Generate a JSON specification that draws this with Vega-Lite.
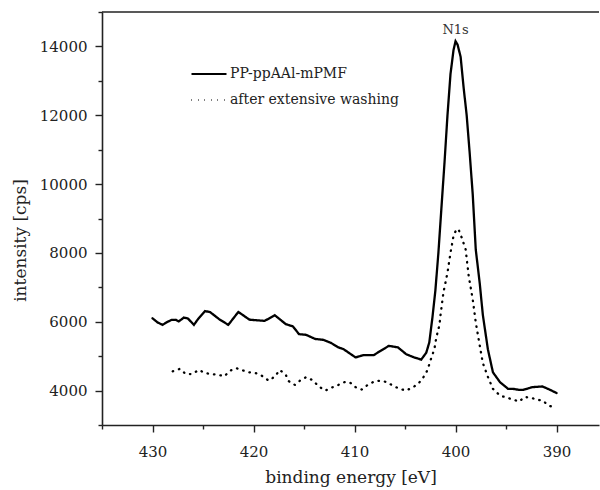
{
  "$schema": "https://vega.github.io/schema/vega-lite/v6.json",
  "width": 497,
  "height": 413,
  "autosize": "none",
  "padding": {"left": 102, "top": 12, "right": 1, "bottom": 65},
  "background": "white",
  "config": {
    "view": {"stroke": null},
    "font": "DejaVu Serif",
    "axis": {
      "domainColor": "#222",
      "domainWidth": 1.6,
      "tickColor": "#222",
      "tickWidth": 1.4,
      "grid": false,
      "labelFont": "DejaVu Serif",
      "labelFontSize": 15,
      "labelColor": "#222",
      "titleFont": "DejaVu Serif",
      "titleFontSize": 17,
      "titleFontWeight": "normal",
      "titleColor": "#222"
    }
  },
  "resolve": {"axis": {"y": "independent"}},
  "datasets": {
    "spectra": [
      {"series": "PP-ppAAl-mPMF", "energy": 430.0, "intensity": 6100},
      {"series": "PP-ppAAl-mPMF", "energy": 429.5, "intensity": 5980},
      {"series": "PP-ppAAl-mPMF", "energy": 429.0, "intensity": 5910},
      {"series": "PP-ppAAl-mPMF", "energy": 428.5, "intensity": 6000},
      {"series": "PP-ppAAl-mPMF", "energy": 428.1, "intensity": 6055},
      {"series": "PP-ppAAl-mPMF", "energy": 427.7, "intensity": 6055},
      {"series": "PP-ppAAl-mPMF", "energy": 427.4, "intensity": 6010},
      {"series": "PP-ppAAl-mPMF", "energy": 426.9, "intensity": 6120},
      {"series": "PP-ppAAl-mPMF", "energy": 426.5, "intensity": 6095},
      {"series": "PP-ppAAl-mPMF", "energy": 425.9, "intensity": 5910},
      {"series": "PP-ppAAl-mPMF", "energy": 425.5, "intensity": 6075},
      {"series": "PP-ppAAl-mPMF", "energy": 424.8, "intensity": 6310},
      {"series": "PP-ppAAl-mPMF", "energy": 424.3, "intensity": 6280},
      {"series": "PP-ppAAl-mPMF", "energy": 423.4, "intensity": 6075},
      {"series": "PP-ppAAl-mPMF", "energy": 422.5, "intensity": 5910},
      {"series": "PP-ppAAl-mPMF", "energy": 421.5, "intensity": 6285},
      {"series": "PP-ppAAl-mPMF", "energy": 420.4, "intensity": 6060},
      {"series": "PP-ppAAl-mPMF", "energy": 418.9, "intensity": 6025},
      {"series": "PP-ppAAl-mPMF", "energy": 417.9, "intensity": 6190},
      {"series": "PP-ppAAl-mPMF", "energy": 416.8, "intensity": 5930},
      {"series": "PP-ppAAl-mPMF", "energy": 416.1, "intensity": 5865},
      {"series": "PP-ppAAl-mPMF", "energy": 415.5, "intensity": 5640},
      {"series": "PP-ppAAl-mPMF", "energy": 414.8, "intensity": 5620},
      {"series": "PP-ppAAl-mPMF", "energy": 413.9, "intensity": 5500},
      {"series": "PP-ppAAl-mPMF", "energy": 413.1, "intensity": 5475},
      {"series": "PP-ppAAl-mPMF", "energy": 412.3, "intensity": 5380},
      {"series": "PP-ppAAl-mPMF", "energy": 411.6, "intensity": 5255},
      {"series": "PP-ppAAl-mPMF", "energy": 411.1, "intensity": 5205},
      {"series": "PP-ppAAl-mPMF", "energy": 409.9, "intensity": 4965},
      {"series": "PP-ppAAl-mPMF", "energy": 409.1, "intensity": 5030},
      {"series": "PP-ppAAl-mPMF", "energy": 408.1, "intensity": 5030},
      {"series": "PP-ppAAl-mPMF", "energy": 407.4, "intensity": 5160},
      {"series": "PP-ppAAl-mPMF", "energy": 406.6, "intensity": 5300},
      {"series": "PP-ppAAl-mPMF", "energy": 405.7, "intensity": 5255},
      {"series": "PP-ppAAl-mPMF", "energy": 404.9, "intensity": 5060},
      {"series": "PP-ppAAl-mPMF", "energy": 404.1, "intensity": 4965},
      {"series": "PP-ppAAl-mPMF", "energy": 403.4, "intensity": 4900},
      {"series": "PP-ppAAl-mPMF", "energy": 402.9, "intensity": 5100},
      {"series": "PP-ppAAl-mPMF", "energy": 402.6, "intensity": 5400},
      {"series": "PP-ppAAl-mPMF", "energy": 402.3, "intensity": 6100},
      {"series": "PP-ppAAl-mPMF", "energy": 402.0, "intensity": 6900},
      {"series": "PP-ppAAl-mPMF", "energy": 401.7, "intensity": 8000},
      {"series": "PP-ppAAl-mPMF", "energy": 401.4, "intensity": 9300},
      {"series": "PP-ppAAl-mPMF", "energy": 401.1, "intensity": 10600},
      {"series": "PP-ppAAl-mPMF", "energy": 400.8, "intensity": 12000},
      {"series": "PP-ppAAl-mPMF", "energy": 400.5, "intensity": 13200},
      {"series": "PP-ppAAl-mPMF", "energy": 400.2, "intensity": 13900},
      {"series": "PP-ppAAl-mPMF", "energy": 400.0, "intensity": 14150},
      {"series": "PP-ppAAl-mPMF", "energy": 399.8, "intensity": 14050},
      {"series": "PP-ppAAl-mPMF", "energy": 399.5, "intensity": 13700},
      {"series": "PP-ppAAl-mPMF", "energy": 399.2, "intensity": 12800},
      {"series": "PP-ppAAl-mPMF", "energy": 398.9, "intensity": 12000},
      {"series": "PP-ppAAl-mPMF", "energy": 398.6, "intensity": 10900},
      {"series": "PP-ppAAl-mPMF", "energy": 398.3, "intensity": 9700},
      {"series": "PP-ppAAl-mPMF", "energy": 398.0, "intensity": 8100},
      {"series": "PP-ppAAl-mPMF", "energy": 397.6, "intensity": 7100},
      {"series": "PP-ppAAl-mPMF", "energy": 397.3, "intensity": 6200},
      {"series": "PP-ppAAl-mPMF", "energy": 396.8, "intensity": 5200},
      {"series": "PP-ppAAl-mPMF", "energy": 396.3, "intensity": 4530},
      {"series": "PP-ppAAl-mPMF", "energy": 395.6, "intensity": 4245},
      {"series": "PP-ppAAl-mPMF", "energy": 394.8, "intensity": 4050},
      {"series": "PP-ppAAl-mPMF", "energy": 394.3, "intensity": 4050},
      {"series": "PP-ppAAl-mPMF", "energy": 393.7, "intensity": 4020},
      {"series": "PP-ppAAl-mPMF", "energy": 393.3, "intensity": 4020},
      {"series": "PP-ppAAl-mPMF", "energy": 392.4, "intensity": 4100},
      {"series": "PP-ppAAl-mPMF", "energy": 391.4, "intensity": 4120},
      {"series": "PP-ppAAl-mPMF", "energy": 390.7, "intensity": 4030},
      {"series": "PP-ppAAl-mPMF", "energy": 390.0, "intensity": 3930},
      {"series": "after extensive washing", "energy": 428.0, "intensity": 4560},
      {"series": "after extensive washing", "energy": 427.3, "intensity": 4630},
      {"series": "after extensive washing", "energy": 426.7, "intensity": 4480},
      {"series": "after extensive washing", "energy": 426.1, "intensity": 4480},
      {"series": "after extensive washing", "energy": 425.4, "intensity": 4600},
      {"series": "after extensive washing", "energy": 424.8, "intensity": 4510},
      {"series": "after extensive washing", "energy": 424.2, "intensity": 4480},
      {"series": "after extensive washing", "energy": 423.5, "intensity": 4460},
      {"series": "after extensive washing", "energy": 422.9, "intensity": 4415},
      {"series": "after extensive washing", "energy": 422.3, "intensity": 4580},
      {"series": "after extensive washing", "energy": 421.7, "intensity": 4650},
      {"series": "after extensive washing", "energy": 421.0, "intensity": 4580},
      {"series": "after extensive washing", "energy": 420.4, "intensity": 4530},
      {"series": "after extensive washing", "energy": 419.8, "intensity": 4510},
      {"series": "after extensive washing", "energy": 419.2, "intensity": 4435},
      {"series": "after extensive washing", "energy": 418.5, "intensity": 4290},
      {"series": "after extensive washing", "energy": 417.9, "intensity": 4405},
      {"series": "after extensive washing", "energy": 417.4, "intensity": 4600},
      {"series": "after extensive washing", "energy": 416.8, "intensity": 4455},
      {"series": "after extensive washing", "energy": 416.5, "intensity": 4270},
      {"series": "after extensive washing", "energy": 415.9, "intensity": 4165},
      {"series": "after extensive washing", "energy": 415.4, "intensity": 4290},
      {"series": "after extensive washing", "energy": 414.8, "intensity": 4390},
      {"series": "after extensive washing", "energy": 414.2, "intensity": 4310},
      {"series": "after extensive washing", "energy": 413.5, "intensity": 4115},
      {"series": "after extensive washing", "energy": 412.9, "intensity": 4000},
      {"series": "after extensive washing", "energy": 412.3, "intensity": 4080},
      {"series": "after extensive washing", "energy": 411.6, "intensity": 4165},
      {"series": "after extensive washing", "energy": 411.0, "intensity": 4245},
      {"series": "after extensive washing", "energy": 410.5, "intensity": 4245},
      {"series": "after extensive washing", "energy": 409.9, "intensity": 4100},
      {"series": "after extensive washing", "energy": 409.3, "intensity": 4030},
      {"series": "after extensive washing", "energy": 408.7, "intensity": 4165},
      {"series": "after extensive washing", "energy": 408.0, "intensity": 4270},
      {"series": "after extensive washing", "energy": 407.4, "intensity": 4290},
      {"series": "after extensive washing", "energy": 406.8, "intensity": 4245},
      {"series": "after extensive washing", "energy": 406.1, "intensity": 4125},
      {"series": "after extensive washing", "energy": 405.5, "intensity": 4050},
      {"series": "after extensive washing", "energy": 404.9, "intensity": 4000},
      {"series": "after extensive washing", "energy": 404.2, "intensity": 4100},
      {"series": "after extensive washing", "energy": 403.7, "intensity": 4195},
      {"series": "after extensive washing", "energy": 403.2, "intensity": 4380},
      {"series": "after extensive washing", "energy": 402.8, "intensity": 4580},
      {"series": "after extensive washing", "energy": 402.4, "intensity": 4950},
      {"series": "after extensive washing", "energy": 402.1, "intensity": 5200},
      {"series": "after extensive washing", "energy": 401.9, "intensity": 5550},
      {"series": "after extensive washing", "energy": 401.6, "intensity": 5900},
      {"series": "after extensive washing", "energy": 401.5, "intensity": 6170},
      {"series": "after extensive washing", "energy": 401.2, "intensity": 6850},
      {"series": "after extensive washing", "energy": 400.8, "intensity": 7425},
      {"series": "after extensive washing", "energy": 400.5, "intensity": 8005},
      {"series": "after extensive washing", "energy": 400.2, "intensity": 8500},
      {"series": "after extensive washing", "energy": 399.9, "intensity": 8690},
      {"series": "after extensive washing", "energy": 399.7, "intensity": 8680},
      {"series": "after extensive washing", "energy": 399.4, "intensity": 8450},
      {"series": "after extensive washing", "energy": 399.0, "intensity": 8100},
      {"series": "after extensive washing", "energy": 398.7, "intensity": 7330},
      {"series": "after extensive washing", "energy": 398.3, "intensity": 6650},
      {"series": "after extensive washing", "energy": 398.0, "intensity": 5980},
      {"series": "after extensive washing", "energy": 397.6, "intensity": 5300},
      {"series": "after extensive washing", "energy": 397.3, "intensity": 4800},
      {"series": "after extensive washing", "energy": 396.8, "intensity": 4400},
      {"series": "after extensive washing", "energy": 396.3, "intensity": 4050},
      {"series": "after extensive washing", "energy": 395.6, "intensity": 3855},
      {"series": "after extensive washing", "energy": 395.0, "intensity": 3800},
      {"series": "after extensive washing", "energy": 394.3, "intensity": 3740},
      {"series": "after extensive washing", "energy": 393.7, "intensity": 3680},
      {"series": "after extensive washing", "energy": 393.2, "intensity": 3810},
      {"series": "after extensive washing", "energy": 392.6, "intensity": 3800},
      {"series": "after extensive washing", "energy": 392.0, "intensity": 3740},
      {"series": "after extensive washing", "energy": 391.4, "intensity": 3710},
      {"series": "after extensive washing", "energy": 390.7, "intensity": 3550},
      {"series": "after extensive washing", "energy": 390.0, "intensity": 3520}
    ],
    "annot": [{"energy": 400, "intensity": 14470, "label": "N1s"}],
    "frame": [{"intensity": 15000}]
  },
  "layer": [
    {
      "data": {"name": "spectra"},
      "mark": {"type": "line", "color": "black", "strokeWidth": 2.3, "strokeCap": "round", "clip": true},
      "encoding": {
        "x": {
          "field": "energy", "type": "quantitative",
          "scale": {"domain": [435, 385.8], "nice": false, "zero": false},
          "axis": {
            "title": "binding energy [eV]",
            "values": [435, 430, 425, 420, 415, 410, 405, 400, 395, 390],
            "labelExpr": "datum.value % 10 === 0 ? datum.label : ''",
            "tickSize": {"condition": {"test": "datum.value % 10 === 0", "value": 7}, "value": 4},
            "labelPadding": 12,
            "titlePadding": 10
          }
        },
        "y": {
          "field": "intensity", "type": "quantitative",
          "scale": {"domain": [3000, 15000], "nice": false, "zero": false},
          "axis": {
            "title": "intensity [cps]",
            "orient": "left",
            "values": [4000, 6000, 8000, 10000, 12000, 14000],
            "format": "d",
            "tickSize": 7,
            "labelPadding": 8,
            "titleX": -90,
            "titleY": 228,
            "titleBaseline": "top"
          }
        },
        "strokeDash": {
          "field": "series", "type": "nominal",
          "scale": {"domain": ["PP-ppAAl-mPMF", "after extensive washing"], "range": [[1, 0], [0.5, 6]]},
          "legend": {
            "title": null,
            "orient": "none",
            "legendX": 88,
            "legendY": 43,
            "symbolType": "stroke",
            "symbolSize": 1225,
            "symbolStrokeWidth": 2.2,
            "symbolStrokeColor": "black",
            "labelFont": "DejaVu Serif",
            "labelFontSize": 14,
            "labelColor": "#222",
            "labelLimit": 400,
            "labelExpr": "datum.label == 'after extensive washing' ? '\u2002' + datum.label : datum.label",
            "rowPadding": -19,
            "labelOffset": 2
          }
        }
      }
    },
    {
      "data": {"name": "frame"},
      "mark": {"type": "rule", "color": "#222", "strokeWidth": 1.6},
      "encoding": {
        "y": {
          "field": "intensity", "type": "quantitative",
          "scale": {"domain": [3000, 15000], "nice": false, "zero": false},
          "axis": {
            "orient": "left",
            "title": null,
            "values": [3000, 5000, 7000, 9000, 11000, 13000, 15000],
            "labels": false,
            "domain": false,
            "tickSize": 4
          }
        }
      }
    },
    {
      "data": {"name": "annot"},
      "mark": {"type": "text", "font": "DejaVu Serif", "fontSize": 13, "color": "#333", "baseline": "middle"},
      "encoding": {
        "x": {"field": "energy", "type": "quantitative"},
        "y": {"field": "intensity", "type": "quantitative", "axis": null},
        "text": {"field": "label"}
      }
    }
  ]
}
